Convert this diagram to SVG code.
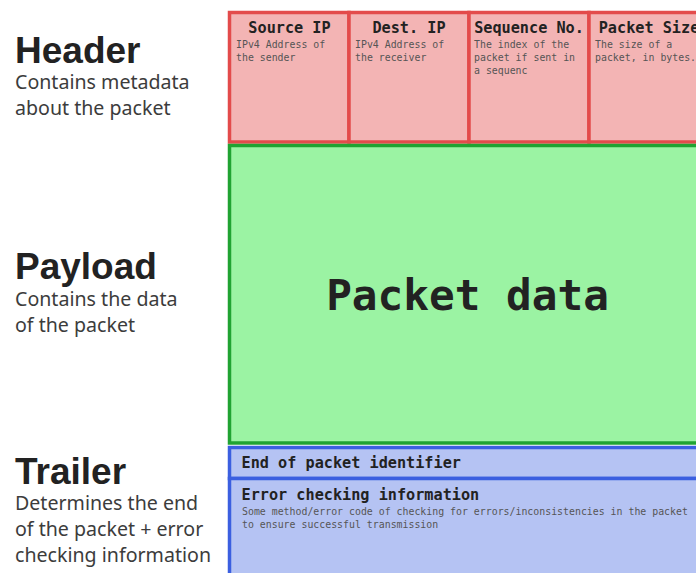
<svg xmlns="http://www.w3.org/2000/svg" width="696" height="573" viewBox="0 0 696 573">
  <style>
    .title { font-family: "Liberation Sans", "Noto Sans", sans-serif; font-weight: bold; font-size: 37px; fill: #222; }
    .sub { font-family: "Noto Sans", "Liberation Sans", sans-serif; font-size: 19.6px; fill: #3c3c3c; }
    .hdr { fill: #f3b4b4; stroke: #e34b4b; stroke-width: 3.5; }
    .pay { fill: #9bf3a3; stroke: #20a332; stroke-width: 3.5; }
    .trl { fill: #b5c3f3; stroke: #3b5fe0; stroke-width: 3.5; }
    .head { font-family: "DejaVu Sans Mono", "Liberation Mono", monospace; font-weight: bold; font-size: 15.2px; fill: #222; }
    .cellhead { text-anchor: middle; }
    .desc { font-family: "DejaVu Sans Mono", "Liberation Mono", monospace; font-size: 9.9px; fill: #555; }
    .big { font-family: "DejaVu Sans Mono", "Liberation Mono", monospace; font-weight: bold; font-size: 42.7px; fill: #222; text-anchor: middle; }
  </style>

  <rect width="696" height="573" fill="#ffffff"/>

  <!-- left-hand section labels -->
  <g id="label-header">
    <text class="title" x="15" y="63">Header</text>
    <text class="sub" x="15" y="89">Contains metadata</text>
    <text class="sub" x="15" y="115">about the packet</text>
  </g>
  <g id="label-payload">
    <text class="title" x="15" y="279">Payload</text>
    <text class="sub" x="15" y="306">Contains the data</text>
    <text class="sub" x="15" y="332">of the packet</text>
  </g>
  <g id="label-trailer">
    <text class="title" x="15" y="484">Trailer</text>
    <text class="sub" x="15" y="510">Determines the end</text>
    <text class="sub" x="15" y="536">of the packet + error</text>
    <text class="sub" x="15" y="562">checking information</text>
  </g>

  <!-- header fields -->
  <g id="source-ip">
    <rect class="hdr" x="229.5" y="12.5" width="119.5" height="129.5"/>
    <text class="head cellhead" x="289.5" y="33">Source IP</text>
    <text class="desc" x="236" y="48">IPv4 Address of</text>
    <text class="desc" x="236" y="61">the sender</text>
  </g>
  <g id="dest-ip">
    <rect class="hdr" x="349" y="12.5" width="120" height="129.5"/>
    <text class="head cellhead" x="409" y="33">Dest. IP</text>
    <text class="desc" x="355" y="48">IPv4 Address of</text>
    <text class="desc" x="355" y="61">the receiver</text>
  </g>
  <g id="sequence-no">
    <rect class="hdr" x="469" y="12.5" width="120" height="129.5"/>
    <text class="head cellhead" x="529" y="33">Sequence No.</text>
    <text class="desc" x="474" y="48">The index of the</text>
    <text class="desc" x="474" y="61">packet if sent in</text>
    <text class="desc" x="474" y="74">a sequenc</text>
  </g>
  <g id="packet-size">
    <rect class="hdr" x="589" y="12.5" width="120" height="129.5"/>
    <text class="head cellhead" x="649" y="33">Packet Size</text>
    <text class="desc" x="595" y="48">The size of a</text>
    <text class="desc" x="595" y="61">packet, in bytes.</text>
  </g>

  <!-- payload -->
  <g id="payload">
    <rect class="pay" x="229.5" y="145.5" width="480" height="297.5"/>
    <text class="big" x="467.5" y="310">Packet data</text>
  </g>

  <!-- trailer fields -->
  <g id="end-identifier">
    <rect class="trl" x="229.5" y="447.5" width="480" height="31"/>
    <text class="head" x="241.5" y="468">End of packet identifier</text>
  </g>
  <g id="error-checking">
    <rect class="trl" x="229.5" y="478.5" width="480" height="110"/>
    <text class="head" x="241.5" y="500">Error checking information</text>
    <text class="desc" x="242" y="515">Some method/error code of checking for errors/inconsistencies in the packet</text>
    <text class="desc" x="242" y="528">to ensure successful transmission</text>
  </g>

  <g id="connectors"/>
</svg>
